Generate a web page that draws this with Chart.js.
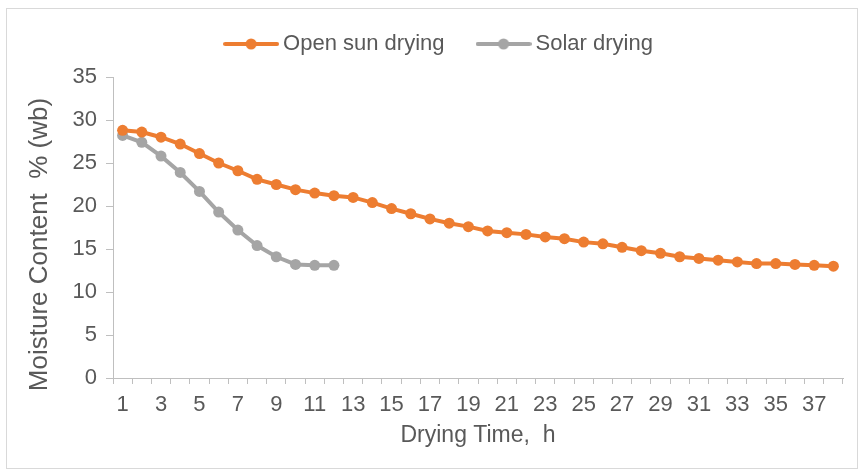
<!DOCTYPE html>
<html>
<head>
<meta charset="utf-8">
<script src="https://cdn.jsdelivr.net/npm/chart.js@4/dist/chart.umd.min.js"></script>
<style>
  html, body { margin: 0; padding: 0; background: #ffffff; }
  #wrap { position: relative; width: 862px; height: 472px; }
</style>
</head>
<body>
<div id="wrap"><canvas id="chart" width="862" height="472"></canvas></div>
<script>
// Drying time (hours)
const hours = [1, 2, 3, 4, 5, 6, 7, 8, 9, 10, 11, 12, 13, 14, 15, 16, 17, 18, 19,
               20, 21, 22, 23, 24, 25, 26, 27, 28, 29, 30, 31, 32, 33, 34, 35, 36, 37, 38];

// Moisture content % (wb), open sun drying
const openSun = [28.8, 28.6, 28.0, 27.2, 26.1, 25.0, 24.1, 23.1, 22.5, 21.9,
                 21.5, 21.2, 21.0, 20.4, 19.7, 19.1, 18.5, 18.0, 17.6, 17.1,
                 16.9, 16.7, 16.4, 16.2, 15.8, 15.6, 15.2, 14.8, 14.5, 14.1,
                 13.9, 13.7, 13.5, 13.3, 13.3, 13.2, 13.1, 13.0];

// Moisture content % (wb), solar drying (12 hours of readings)
const solar = [28.2, 27.4, 25.8, 23.9, 21.7, 19.3, 17.2, 15.4, 14.1, 13.2, 13.1, 13.1];

const seriesNames = ['Open sun drying', 'Solar drying'];
const yTicks = [0, 5, 10, 15, 20, 25, 30, 35];
const xTitle = 'Drying Time,  h';
const yTitle = 'Moisture Content  % (wb)';

const ORANGE = '#ED7D31';
const GREY = '#A5A5A5';
const TEXT = '#595959';
const AXIS = '#BFBFBF';
const FONT = "'Liberation Sans', Arial, sans-serif";

// legend symbol: short line with a dot in the middle
function legendSymbol(color) {
  const c = document.createElement('canvas');
  c.width = 56; c.height = 14;
  const g = c.getContext('2d');
  g.strokeStyle = color; g.lineWidth = 4; g.lineCap = 'round';
  g.beginPath(); g.moveTo(2, 7); g.lineTo(54, 7); g.stroke();
  g.fillStyle = color;
  g.beginPath(); g.arc(28, 7, 5.5, 0, Math.PI * 2); g.fill();
  return c;
}

// frame around the whole chart
const framePlugin = {
  id: 'frame',
  beforeDraw(chart) {
    const ctx = chart.ctx;
    ctx.save();
    ctx.fillStyle = '#ffffff';
    ctx.fillRect(0, 0, chart.width, chart.height);
    ctx.strokeStyle = '#D9D9D9';
    ctx.lineWidth = 1;
    ctx.strokeRect(6.5, 8.5, 851, 460);
    ctx.restore();
  }
};

// place the legend row slightly right of centre and higher above the plot
const legendShift = {
  id: 'legendShift',
  afterLayout(chart) {
    const lg = chart.legend;
    if (lg) {
      lg.left += 20; lg.right += 20;
      lg.top -= 12; lg.bottom -= 12;
    }
  }
};

// vertical axis title, set a little below the middle of the value axis
const yTitlePlugin = {
  id: 'yTitle',
  afterDraw(chart) {
    const ctx = chart.ctx;
    const area = chart.chartArea;
    ctx.save();
    ctx.translate(40, (area.top + area.bottom) / 2 + 17);
    ctx.rotate(-Math.PI / 2);
    ctx.font = '26px ' + FONT;
    ctx.fillStyle = TEXT;
    ctx.textAlign = 'center';
    ctx.textBaseline = 'middle';
    ctx.fillText(yTitle, 0, 0);
    ctx.restore();
  }
};

new Chart(document.getElementById('chart'), {
  type: 'line',
  data: {
    labels: hours,
    datasets: [
      {
        label: seriesNames[0],
        data: openSun,
        borderColor: ORANGE,
        backgroundColor: ORANGE,
        borderWidth: 4,
        pointRadius: 5.5,
        pointHoverRadius: 5.5,
        pointBorderWidth: 0,
        pointStyle: 'circle',
        tension: 0
      },
      {
        label: seriesNames[1],
        data: solar,
        borderColor: GREY,
        backgroundColor: GREY,
        borderWidth: 4,
        pointRadius: 5.5,
        pointHoverRadius: 5.5,
        pointBorderWidth: 0,
        pointStyle: 'circle',
        tension: 0
      }
    ]
  },
  options: {
    responsive: false,
    animation: false,
    devicePixelRatio: 1,
    layout: { padding: { left: 0, right: 19, top: 7, bottom: 0 } },
    plugins: {
      tooltip: { enabled: false },
      legend: {
        display: true,
        position: 'top',
        labels: {
          usePointStyle: true,
          pointStyleWidth: 42,
          padding: 38,
          color: TEXT,
          font: { family: FONT, size: 22 },
          generateLabels(chart) {
            return chart.data.datasets.map((ds, i) => ({
              text: ds.label,
              fillStyle: ds.borderColor,
              strokeStyle: ds.borderColor,
              lineWidth: 0,
              pointStyle: legendSymbol(ds.borderColor),
              fontColor: TEXT,
              hidden: false,
              datasetIndex: i
            }));
          }
        }
      }
    },
    scales: {
      x: {
        type: 'category',
        offset: true,
        grid: {
          offset: true,
          drawOnChartArea: false,
          drawTicks: true,
          tickLength: 6,
          color: AXIS,
          lineWidth: 1
        },
        border: { display: true, color: AXIS, width: 1 },
        ticks: {
          autoSkip: false,
          maxRotation: 0,
          minRotation: 0,
          padding: 8,
          color: TEXT,
          font: { family: FONT, size: 22 },
          callback(value, index) {
            return index % 2 === 0 ? hours[index] : '';
          }
        },
        title: {
          display: true,
          text: xTitle,
          color: TEXT,
          font: { family: FONT, size: 23 },
          padding: { top: 0, bottom: 23 }
        },
        afterFit(scale) { scale.height = 94; }
      },
      y: {
        min: 0,
        max: 35,
        afterBuildTicks(scale) { scale.ticks = yTicks.map(v => ({ value: v })); },
        grid: {
          drawOnChartArea: false,
          drawTicks: true,
          tickLength: 7,
          color: AXIS,
          lineWidth: 1
        },
        border: { display: true, color: AXIS, width: 1 },
        ticks: {
          padding: 9,
          color: TEXT,
          font: { family: FONT, size: 22 }
        },
        title: { display: false },
        afterFit(scale) { scale.width = 113; }
      }
    }
  },
  plugins: [framePlugin, legendShift, yTitlePlugin]
});
</script>
</body>
</html>
